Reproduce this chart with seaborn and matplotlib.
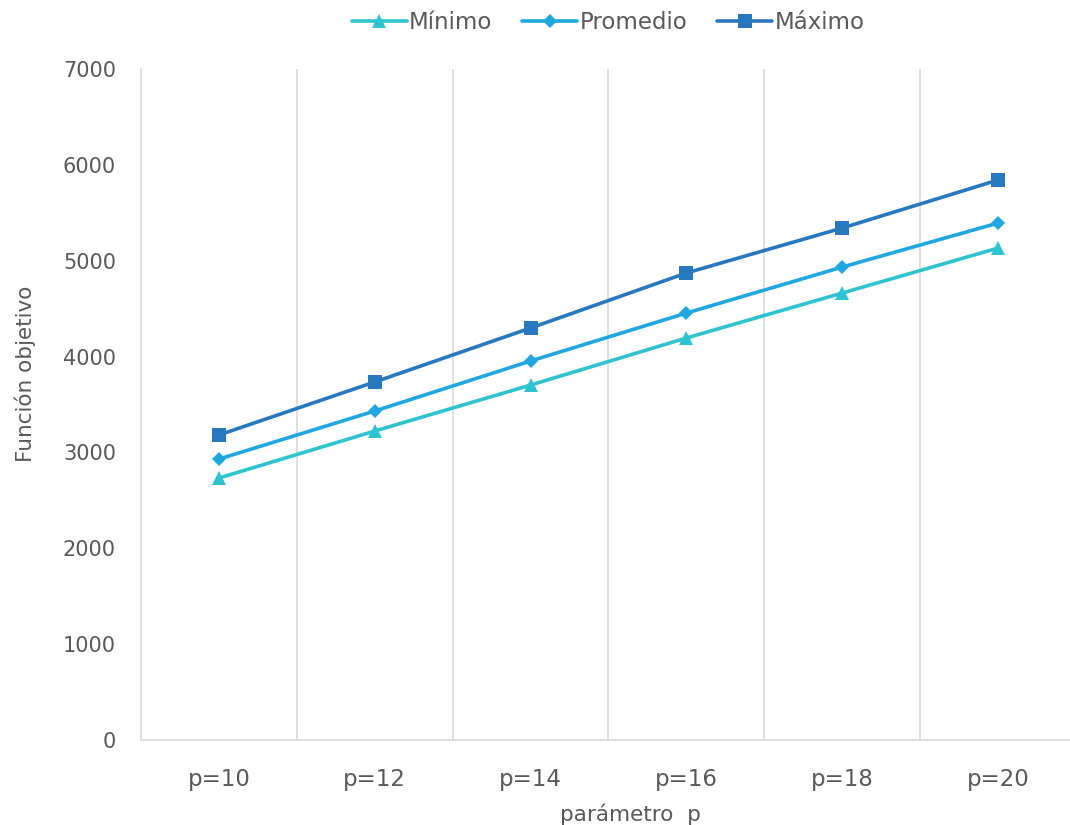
import matplotlib
matplotlib.use("Agg")
import matplotlib.pyplot as plt
import seaborn as sns
import pandas as pd
from matplotlib.ticker import FixedLocator

# Categories and series values
categorias = ["p=10", "p=12", "p=14", "p=16", "p=18", "p=20"]
minimo = [2733, 3223, 3703, 4194, 4663, 5132]
promedio = [2931, 3432, 3954, 4454, 4934, 5393]
maximo = [3182, 3735, 4298, 4872, 5341, 5842]
series = ["Mínimo", "Promedio", "Máximo"]
y_ticks = [0, 1000, 2000, 3000, 4000, 5000, 6000, 7000]

sns.set_theme(style="white")
plt.rcParams["font.family"] = ["DejaVu Sans"]

colores = {"Mínimo": "#2EC4CF", "Promedio": "#1FA7E0", "Máximo": "#2878C0"}
marcadores = {"Mínimo": "^", "Promedio": "D", "Máximo": "s"}
tamanos = {"Mínimo": 10, "Promedio": 7.5, "Máximo": 9.5}

fig = plt.figure(figsize=(10.7, 8.25), dpi=100)
ax = fig.add_axes([141 / 1070, 1 - 740 / 825, 935 / 1070, (740 - 69) / 825])

pos = list(range(len(categorias)))
for s, vals in zip(series, [minimo, promedio, maximo]):
    sub = pd.DataFrame({"x": pos, "y": vals})
    sns.lineplot(data=sub, x="x", y="y", ax=ax, color=colores[s], linewidth=2.6,
                 marker=marcadores[s], markersize=tamanos[s], markeredgewidth=0,
                 label=s)

ax.set_xlim(-0.5, len(categorias) - 0.5)
ax.set_ylim(0, 7000)
ax.set_xticks(pos)
ax.set_xticklabels(categorias)
ax.set_yticks(y_ticks)
ax.xaxis.set_minor_locator(FixedLocator([i + 0.5 for i in pos[:-1]]))
ax.grid(which="minor", axis="x", color="#D9D9D9", linewidth=1.2)
ax.grid(which="major", visible=False)

for side in ["top", "right"]:
    ax.spines[side].set_visible(False)
for side in ["left", "bottom"]:
    ax.spines[side].set_color("#D9D9D9")
    ax.spines[side].set_linewidth(1.2)

ax.tick_params(axis="both", which="both", length=0, colors="#595959")
ax.tick_params(axis="x", labelsize=16.5, pad=20)
ax.tick_params(axis="y", labelsize=15, pad=18)

ax.set_xlabel("parámetro  p", fontsize=15.5, color="#595959")
ax.xaxis.set_label_coords((630 - 141) / 935, -0.095)
ax.set_ylabel("Función objetivo", fontsize=15.5, color="#595959")
ax.yaxis.set_label_coords(-0.112, 0.545)

leg = ax.legend(loc="center", bbox_to_anchor=((608 - 141) / 935, 1.07), ncol=3,
                frameon=False, fontsize=16.5, handlelength=2.4, handletextpad=0.1,
                columnspacing=1.3, numpoints=1)
for t in leg.get_texts():
    t.set_color("#595959")

fig.savefig("out.png", dpi=100)
